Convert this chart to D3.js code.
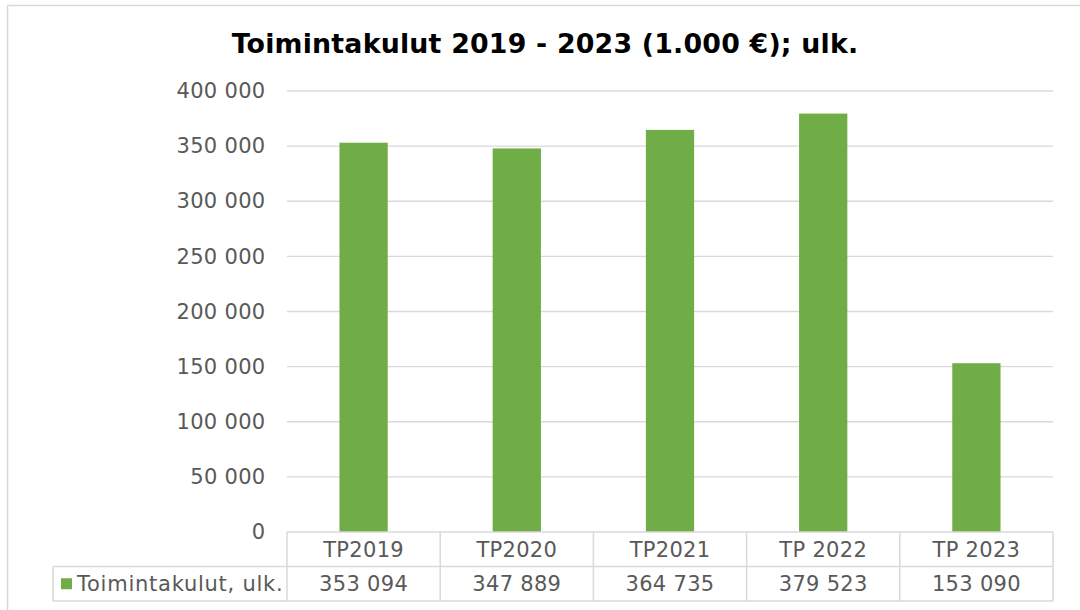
<!DOCTYPE html>
<html>
<head>
<meta charset="utf-8">
<script src="https://cdn.jsdelivr.net/npm/d3@7"></script>
<style>
  body { margin: 0; background: #fff; }
  svg { display: block; font-family: "DejaVu Sans", Verdana, sans-serif; }
</style>
</head>
<body>
<svg id="chart" width="1080" height="610"></svg>
<script>
(function() {
"use strict";

var categories = ["TP2019", "TP2020", "TP2021", "TP 2022", "TP 2023"];
var values = [353094, 347889, 364735, 379523, 153090];
var seriesName = "Toimintakulut, ulk.";
var yTicks = [0, 50000, 100000, 150000, 200000, 250000, 300000, 350000, 400000];
var title = "Toimintakulut 2019 - 2023 (1.000 €); ulk.";

var green = "#70ad47", textCol = "#595959", lineCol = "#d9d9d9";

var svg = d3.select("#chart");

// outer chart border (right and bottom run off the picture)
svg.append("rect")
  .attr("x", 7.5).attr("y", 5.5)
  .attr("width", 1090).attr("height", 620)
  .attr("fill", "#fff")
  .attr("stroke", lineCol).attr("stroke-width", 1.5);

svg.append("text")
  .attr("x", 545).attr("y", 53)
  .attr("text-anchor", "middle")
  .style("font-weight", "bold")
  .style("font-size", "26.8px")
  .style("letter-spacing", "0.2px")
  .attr("fill", "#000")
  .text(title);

var left = 287, right = 1053, top = 91, base = 532;
var rowH = 34.5;

var x = d3.scaleBand().domain(categories).range([left, right]).padding(0);
var y = d3.scaleLinear().domain([0, 400000]).range([base, top]);

var fmt = d3.formatLocale({decimal: ",", thousands: " ", grouping: [3], currency: ["", " €"]}).format(",d");

// gridlines
svg.append("g")
  .selectAll("line")
  .data(yTicks.filter(function(d) { return d > 0; }))
  .enter().append("line")
  .attr("x1", left).attr("x2", right)
  .attr("y1", function(d) { return y(d); })
  .attr("y2", function(d) { return y(d); })
  .attr("stroke", lineCol).attr("stroke-width", 1.3);

// y axis labels
var yAxis = d3.axisLeft(y).tickValues(yTicks).tickFormat(fmt).tickSize(0).tickPadding(0);
var ya = svg.append("g").attr("transform", "translate(265.5,0)").call(yAxis);
ya.select(".domain").remove();
ya.selectAll("text")
  .attr("fill", textCol)
  .style("font-family", "'DejaVu Sans', Verdana, sans-serif")
  .style("font-size", "21px")
  .style("letter-spacing", "0.3px");

// bars
var bw = x.bandwidth() * 0.315;
svg.append("g")
  .selectAll("rect")
  .data(values)
  .enter().append("rect")
  .attr("x", function(d, i) { return x(categories[i]) + (x.bandwidth() - bw) / 2; })
  .attr("y", function(d) { return y(d); })
  .attr("width", bw)
  .attr("height", function(d) { return base - y(d); })
  .attr("fill", green);

// data table
var tbl = svg.append("g")
  .attr("fill", "none")
  .attr("stroke", lineCol)
  .attr("stroke-width", 1.5);
var legendLeft = 53;
var r1 = base + rowH, r2 = base + 2 * rowH;

tbl.append("line").attr("x1", left).attr("x2", right).attr("y1", base).attr("y2", base);
tbl.append("line").attr("x1", legendLeft).attr("x2", right).attr("y1", r1).attr("y2", r1);
tbl.append("line").attr("x1", legendLeft).attr("x2", right).attr("y1", r2).attr("y2", r2);
tbl.append("line").attr("x1", legendLeft).attr("x2", legendLeft).attr("y1", r1).attr("y2", r2);
tbl.selectAll(".col")
  .data(categories.concat(["end"]))
  .enter().append("line")
  .attr("x1", function(d, i) { return left + i * x.bandwidth(); })
  .attr("x2", function(d, i) { return left + i * x.bandwidth(); })
  .attr("y1", base).attr("y2", r2);

var cellText = svg.append("g")
  .attr("fill", textCol)
  .attr("text-anchor", "middle")
  .style("font-size", "21px")
  .style("letter-spacing", "0.3px");

cellText.selectAll(".cat")
  .data(categories)
  .enter().append("text")
  .attr("x", function(d) { return x(d) + x.bandwidth() / 2; })
  .attr("y", base + rowH / 2)
  .attr("dy", "0.36em")
  .text(function(d) { return d; });

cellText.selectAll(".val")
  .data(values)
  .enter().append("text")
  .attr("x", function(d, i) { return x(categories[i]) + x.bandwidth() / 2; })
  .attr("y", r1 + rowH / 2)
  .attr("dy", "0.36em")
  .text(function(d) { return fmt(d); });

// legend key
svg.append("rect")
  .attr("x", 61).attr("y", r1 + rowH / 2 - 5.5)
  .attr("width", 11).attr("height", 11)
  .attr("fill", green);

svg.append("text")
  .attr("x", 77).attr("y", r1 + rowH / 2)
  .attr("dy", "0.36em")
  .attr("fill", textCol)
  .style("font-size", "21px")
  .style("letter-spacing", "0.75px")
  .text(seriesName);

})();
</script>
</body>
</html>
